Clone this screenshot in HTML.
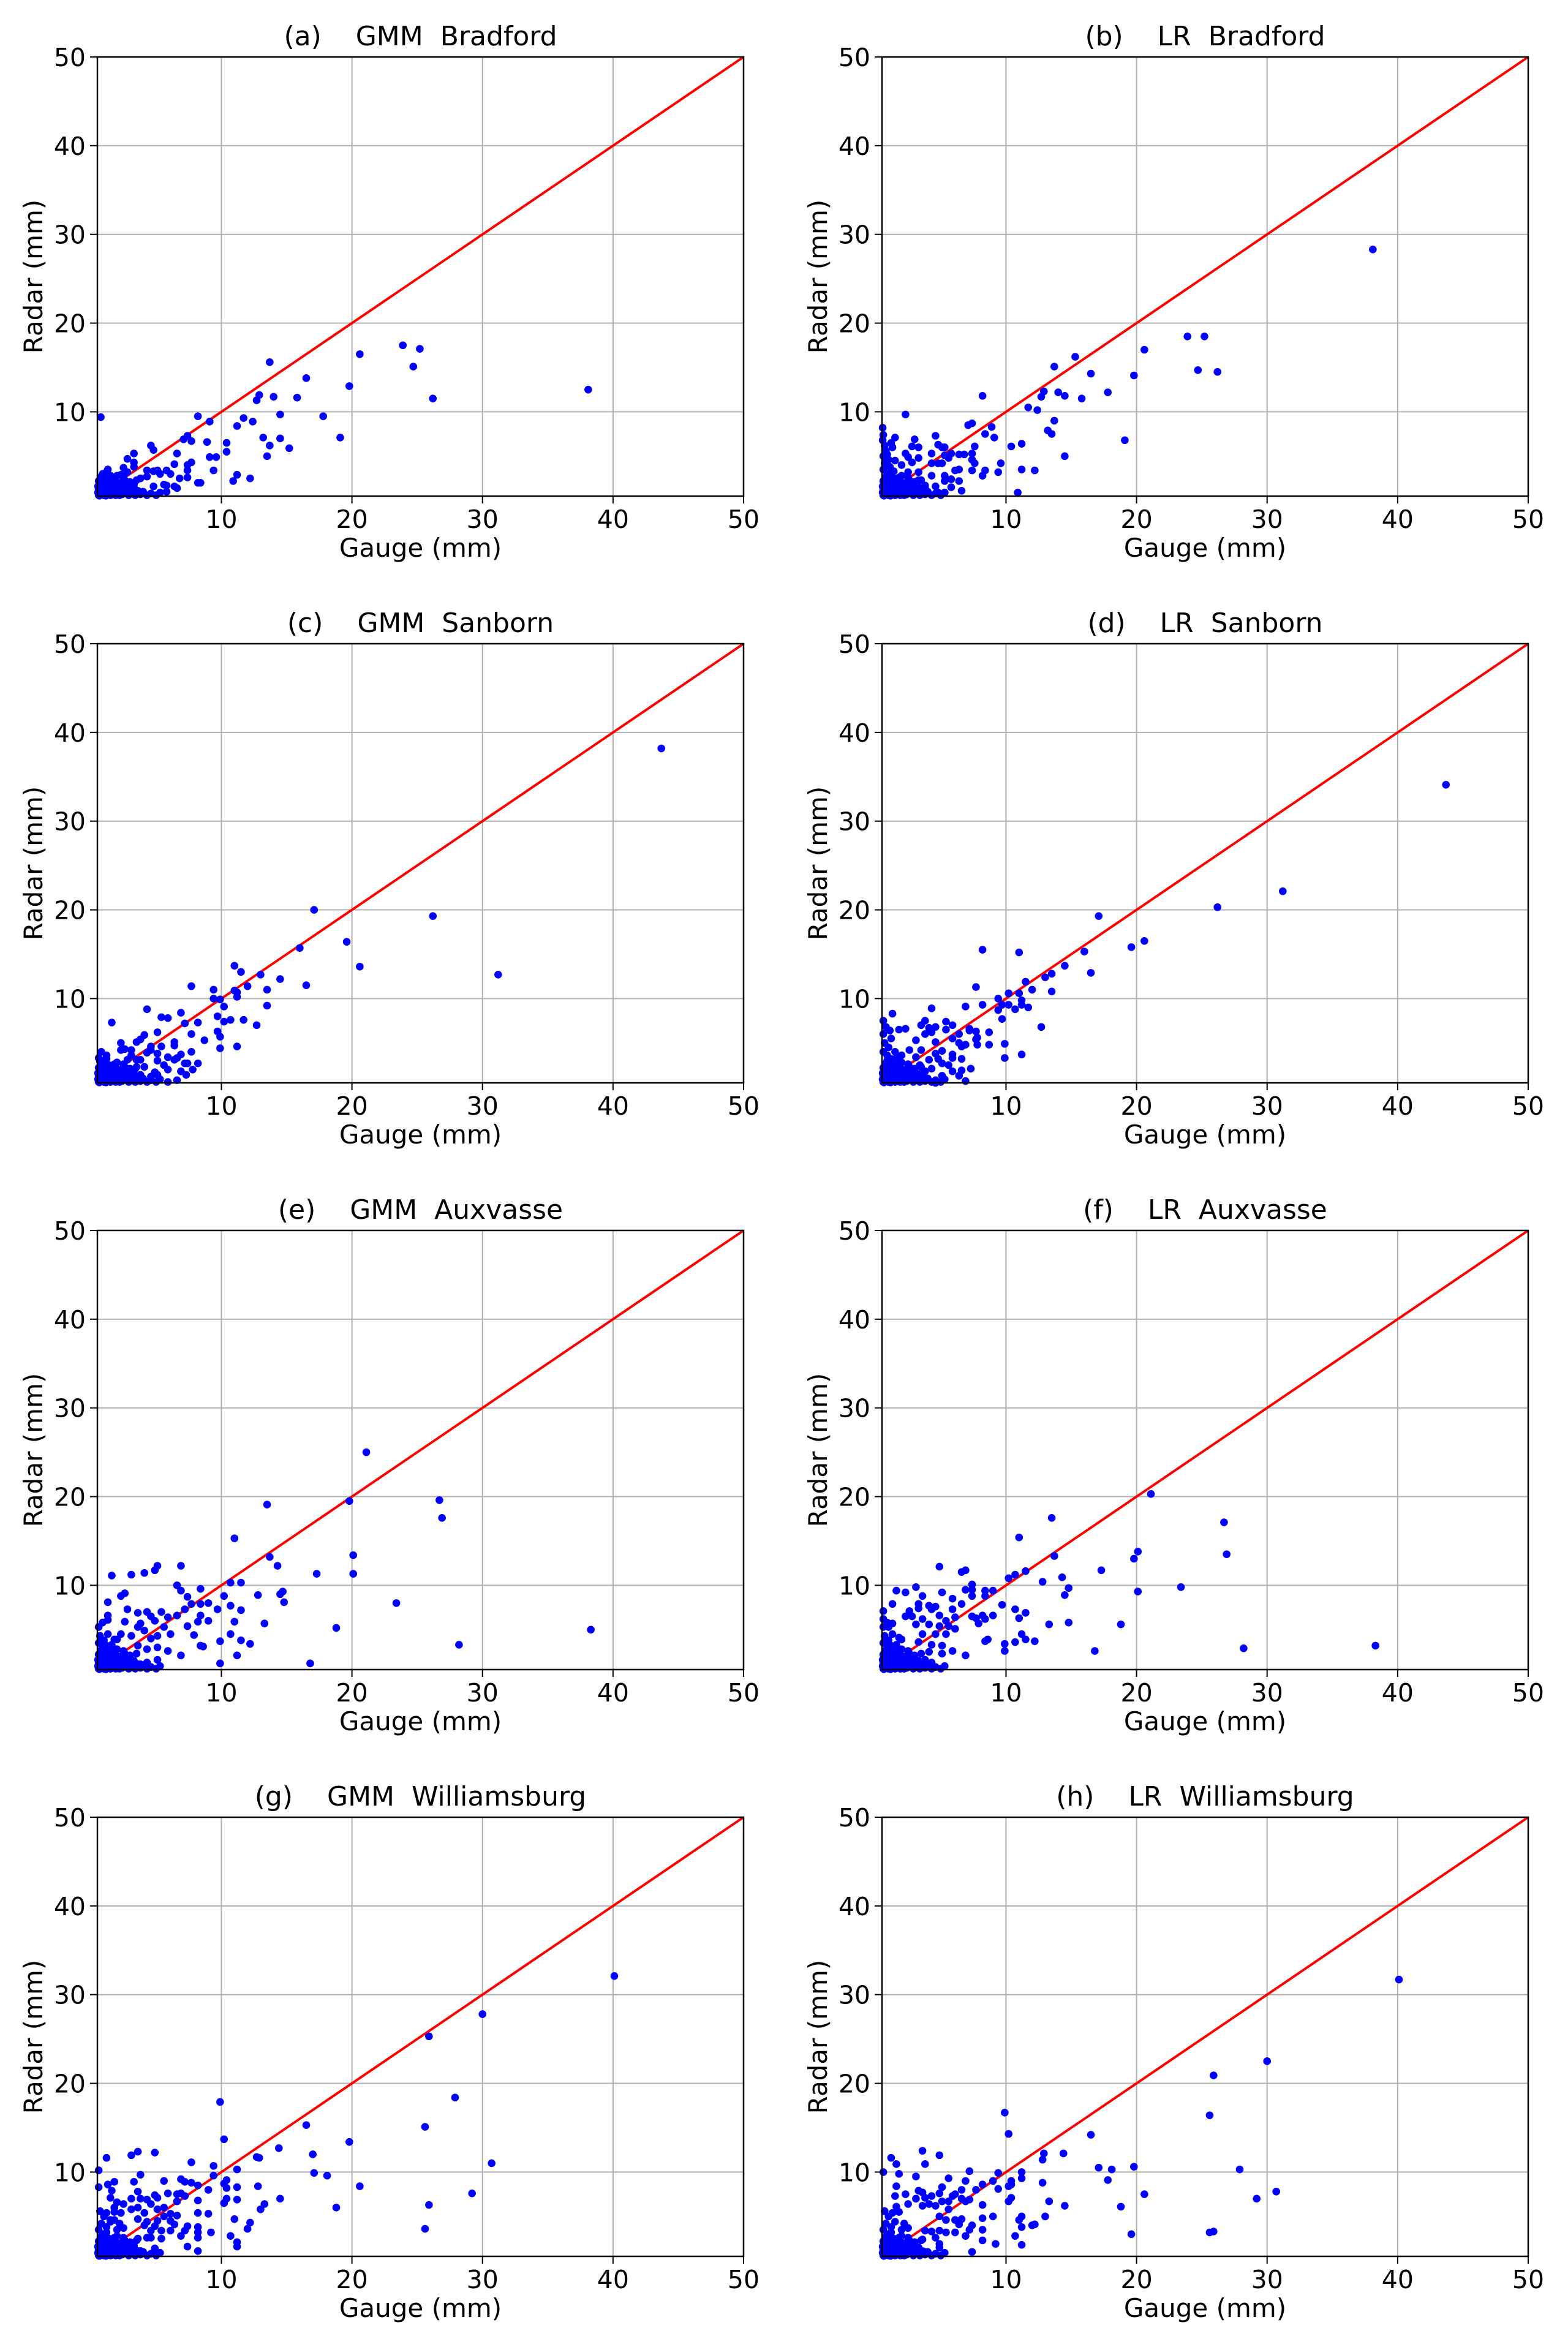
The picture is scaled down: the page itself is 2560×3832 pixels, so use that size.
<!DOCTYPE html>
<html><head><meta charset="utf-8"><style>
html,body{margin:0;padding:0;background:#fff;}
svg{display:block;}
text{font-family:"DejaVu Sans","Liberation Sans",sans-serif;fill:#000;}
</style></head><body>
<svg id="fig" xmlns="http://www.w3.org/2000/svg" width="2560" height="3832" viewBox="0 0 2560 3832"></svg>
<script>
const xTicks=[10,20,30,40,50];
const yTicks=[10,20,30,40,50];
const titles=["(a)    GMM  Bradford","(b)    LR  Bradford","(c)    GMM  Sanborn","(d)    LR  Sanborn","(e)    GMM  Auxvasse","(f)    LR  Auxvasse","(g)    GMM  Williamsburg","(h)    LR  Williamsburg"];
const baseCluster=[[0.6,0.6],[0.7,1.0],[0.8,1.5],[0.9,0.7],[1.0,2.0],[1.1,1.2],[1.2,0.8],[1.3,1.7],[1.4,2.5],[1.5,0.6],[1.6,1.3],[1.7,2.2],[1.8,0.9],[1.9,1.6],[2.0,2.8],[2.1,1.1],[2.2,0.6],[2.3,1.9],[2.4,1.4],[2.5,0.8],[2.6,2.3],[2.7,1.0],[2.8,1.7],[2.9,0.6],[3.0,1.3],[3.2,0.9],[3.4,0.6],[3.6,1.1],[3.8,0.7],[4.0,1.0],[0.6,2.2],[0.7,1.8],[0.6,1.3],[0.8,2.7],[0.9,3.0],[1.0,0.6],[1.1,2.4],[1.2,3.2],[1.3,0.9],[1.4,1.1],[1.5,1.9],[1.6,0.7],[1.7,1.0],[1.8,2.6],[1.9,0.6],[2.0,1.4],[2.1,2.0],[2.2,1.2],[2.4,0.7],[2.6,1.5],[2.8,0.9],[3.0,2.1],[3.3,1.5],[0.55,0.9],[0.55,1.6],[0.65,0.55],[0.75,2.4],[0.85,1.2],[0.95,1.9],[1.05,1.4],[1.15,0.55],[1.25,2.1],[4.3,0.6],[4.6,0.8],[5.0,0.6],[5.3,0.9],[3.5,2.3],[2.5,2.6]];
const ptsA=[[0.76,9.4],[8.2,9.5],[9.1,8.9],[11.7,9.3],[12.4,8.9],[11.2,8.4],[14.5,9.7],[17.8,9.5],[13.7,15.6],[16.5,13.8],[20.6,16.5],[23.9,17.5],[25.2,17.1],[24.7,15.1],[19.8,12.9],[26.2,11.5],[38.1,12.5],[12.9,11.9],[12.7,11.3],[14.0,11.7],[15.8,11.6],[19.1,7.1],[13.2,7.1],[14.5,7.0],[13.7,6.2],[15.2,5.9],[13.5,5.0],[10.4,6.5],[10.4,5.5],[8.9,6.6],[9.1,4.9],[9.6,4.9],[9.4,3.4],[11.2,2.9],[10.9,2.2],[12.2,2.5],[7.1,6.9],[7.4,7.3],[7.7,6.7],[6.6,5.3],[6.4,4.1],[7.4,4.0],[7.7,4.3],[7.4,3.4],[7.4,2.6],[6.8,2.5],[8.2,2.0],[8.4,2.0],[4.6,6.2],[4.8,5.7],[3.3,5.3],[2.8,4.7],[3.3,4.3],[3.3,3.8],[2.5,3.7],[1.3,3.5],[2.8,3.2],[4.3,3.4],[4.8,3.3],[5.1,3.4],[5.8,3.4],[6.1,3.0],[5.3,3.0],[3.8,2.5],[4.3,2.7],[1.5,2.8],[2.3,2.9],[2.5,2.4],[4.8,1.6],[5.6,1.8],[5.8,1.7],[6.4,1.6],[6.6,1.4],[5.8,1.0],[5.3,0.9],[3.3,1.8]];
const ptsB=[[38.1,28.3],[23.9,18.5],[25.2,18.5],[20.6,17.0],[15.3,16.2],[13.7,15.1],[16.5,14.3],[19.8,14.1],[24.7,14.7],[26.2,14.5],[12.9,12.3],[14.0,12.2],[12.7,11.7],[14.5,11.8],[15.8,11.5],[17.8,12.2],[8.2,11.8],[11.7,10.5],[12.4,10.2],[2.3,9.7],[13.7,9.0],[13.2,7.9],[13.5,7.5],[19.1,6.8],[14.5,5.0],[8.9,8.3],[7.1,8.5],[7.4,8.7],[8.4,7.5],[9.1,7.1],[7.6,6.1],[10.4,6.1],[11.2,6.4],[9.6,4.2],[11.2,3.5],[12.2,3.4],[10.9,0.9],[9.4,3.2],[8.4,3.4],[8.2,2.8],[7.4,3.4],[6.4,3.5],[6.1,3.4],[5.8,2.4],[6.4,2.2],[5.3,2.8],[5.3,2.2],[4.3,2.8],[4.6,1.6],[3.8,1.7],[5.8,1.5],[6.6,1.1],[4.8,0.9],[5.3,0.9],[4.6,7.3],[4.8,6.3],[5.1,6.0],[5.3,6.0],[5.8,5.3],[6.4,5.2],[6.8,5.2],[7.4,5.3],[7.4,4.6],[7.6,4.2],[5.6,4.8],[5.3,5.1],[4.3,5.3],[4.3,4.2],[4.8,4.2],[5.1,4.2],[3.3,6.0],[2.8,6.1],[3.0,6.9],[1.5,7.1],[0.55,8.2],[0.55,6.8],[1.3,6.0],[2.3,5.3],[2.5,4.9],[3.3,4.8],[2.8,4.3],[1.5,4.5],[2.0,4.0],[3.3,3.2],[2.5,3.2],[3.3,2.3],[3.8,1.4],[0.6,3.5],[0.7,4.2],[0.6,5.0],[0.8,5.6],[0.7,6.2],[1.0,4.6],[1.1,3.8],[0.9,5.2],[1.2,6.5],[1.4,3.3],[0.6,7.4]];
const ptsC=[[43.7,38.2],[17.1,20.0],[26.2,19.3],[19.6,16.4],[16.0,15.7],[20.6,13.6],[31.2,12.7],[11.0,13.7],[11.5,13.0],[13.0,12.7],[14.5,12.2],[16.5,11.5],[12.0,11.4],[7.7,11.4],[9.4,11.0],[11.0,10.9],[11.2,10.7],[13.5,11.0],[11.2,10.2],[9.4,10.0],[9.9,9.9],[10.2,9.1],[13.5,9.2],[4.3,8.8],[6.9,8.4],[5.4,7.9],[5.9,7.8],[9.7,8.0],[7.2,7.2],[8.2,7.3],[10.2,7.4],[10.7,7.6],[11.7,7.6],[12.7,7.0],[1.6,7.3],[7.7,6.0],[5.1,6.2],[4.1,5.9],[3.8,5.4],[3.5,5.1],[6.4,5.1],[6.4,4.7],[8.7,5.3],[9.7,6.3],[9.9,5.7],[9.9,4.4],[11.2,4.6],[5.4,4.6],[4.6,4.6],[2.3,5.0],[2.3,4.2],[2.6,4.3],[3.1,4.2],[4.6,4.2],[7.7,4.0],[6.9,3.7],[5.1,3.8],[4.3,3.9],[5.9,3.4],[6.6,3.3],[7.2,2.7],[7.4,2.7],[8.2,2.7],[6.4,3.1],[5.6,2.5],[5.9,2.0],[6.9,1.8],[7.8,2.0],[7.3,1.4],[4.9,1.7],[5.1,1.4],[4.6,1.2],[5.9,0.6],[6.6,0.8],[3.5,3.1],[3.8,3.1],[2.8,3.1],[5.1,3.0],[3.1,3.6],[3.4,2.1],[4.1,2.3],[3.8,1.4],[0.6,3.3],[0.8,4.0],[1.2,3.6],[0.7,2.9]];
const ptsD=[[43.7,34.1],[31.2,22.1],[26.2,20.3],[17.1,19.3],[20.6,16.5],[19.6,15.8],[16.0,15.3],[8.2,15.5],[11.0,15.2],[14.5,13.7],[16.5,12.9],[13.5,12.8],[13.0,12.4],[11.5,11.9],[12.0,11.0],[13.5,10.8],[7.7,11.3],[10.2,10.6],[11.0,10.6],[9.4,10.0],[11.2,9.8],[9.7,9.3],[10.2,9.3],[11.2,9.3],[11.7,9.0],[10.7,8.8],[9.4,8.7],[8.2,9.3],[6.9,9.1],[4.3,8.9],[1.3,8.3],[9.7,7.7],[12.7,6.8],[5.4,7.4],[5.9,7.0],[3.8,7.5],[3.5,7.0],[4.6,6.8],[4.1,6.7],[5.4,6.5],[7.2,6.6],[7.2,6.4],[7.7,6.3],[8.7,6.2],[2.3,6.6],[1.8,6.5],[4.3,6.2],[3.8,6.0],[6.4,6.0],[5.9,5.5],[7.8,5.6],[7.7,5.4],[3.1,5.3],[4.6,5.1],[6.4,5.0],[6.9,4.8],[7.8,4.8],[8.7,4.8],[9.9,4.9],[6.6,4.6],[5.1,4.1],[3.5,4.2],[2.6,4.2],[4.6,3.8],[5.9,3.7],[5.9,3.3],[6.6,3.2],[11.2,3.7],[9.9,3.3],[4.8,3.2],[4.1,3.1],[5.6,2.5],[5.1,2.7],[7.3,2.1],[6.6,1.9],[5.9,1.8],[4.3,2.1],[3.8,1.8],[6.4,1.3],[5.1,1.3],[4.6,0.5],[6.9,0.7],[3.4,2.5],[3.1,3.4],[0.6,4.0],[0.7,5.0],[0.6,6.0],[0.8,6.8],[1.0,4.5],[1.2,5.5],[0.9,3.6],[1.5,4.0],[1.1,6.4],[1.6,3.3],[2.0,3.6],[0.6,7.5]];
const ptsE=[[21.1,25.0],[13.5,19.1],[19.8,19.5],[26.7,19.6],[26.9,17.6],[11.0,15.3],[13.7,13.2],[20.1,13.4],[14.3,12.2],[17.3,11.3],[20.1,11.3],[6.9,12.2],[5.1,12.2],[4.9,11.7],[4.1,11.4],[3.1,11.2],[1.6,11.1],[6.6,10.0],[6.9,9.4],[8.4,9.6],[10.7,10.3],[11.5,10.3],[10.2,8.8],[12.8,8.9],[14.5,9.0],[14.7,9.3],[14.8,8.1],[23.4,8.0],[7.4,8.7],[2.6,9.1],[2.3,8.8],[1.3,8.1],[7.7,7.9],[7.2,7.3],[8.4,7.9],[9.0,8.0],[9.7,7.3],[10.7,7.7],[11.5,7.2],[2.8,7.3],[3.6,6.9],[4.3,7.0],[5.4,7.0],[6.6,6.6],[8.4,6.6],[5.9,6.4],[4.6,6.5],[1.3,6.6],[1.3,6.1],[2.6,5.9],[3.8,5.7],[4.9,6.0],[8.2,5.9],[9.0,6.0],[11.0,5.9],[13.3,5.7],[7.4,5.4],[5.6,5.3],[3.6,5.3],[18.8,5.2],[38.3,5.0],[7.9,4.4],[10.7,4.5],[6.1,4.5],[5.1,4.3],[2.3,4.5],[4.6,4.0],[9.9,3.7],[11.5,3.8],[12.2,3.4],[8.4,3.2],[8.6,3.1],[28.2,3.3],[5.1,3.0],[5.9,2.6],[4.3,2.8],[3.6,3.2],[6.9,2.1],[11.2,2.1],[5.1,1.6],[4.3,1.3],[3.8,1.1],[9.9,1.2],[16.8,1.2],[1.8,3.9],[3.1,4.3],[4.1,4.9],[0.6,3.5],[0.7,4.3],[0.6,5.3],[1.0,3.8],[1.3,4.5],[1.6,3.3],[2.0,3.9],[0.9,5.8]];
const ptsF=[[21.1,20.3],[13.5,17.6],[26.7,17.1],[11.0,15.4],[20.1,13.8],[19.8,13.0],[26.9,13.5],[13.7,13.3],[17.3,11.7],[4.9,12.1],[6.9,11.7],[6.6,11.5],[11.5,11.6],[10.7,11.2],[10.2,10.8],[14.3,10.9],[12.8,10.4],[23.4,9.8],[20.1,9.3],[14.8,9.7],[14.5,8.9],[7.4,10.1],[6.9,9.5],[7.4,9.5],[8.4,9.4],[9.0,9.4],[7.4,8.8],[8.4,8.8],[3.1,9.8],[1.6,9.4],[2.3,9.2],[3.6,8.8],[5.1,9.2],[5.9,8.5],[6.6,7.9],[9.7,7.8],[1.3,7.9],[3.3,7.9],[4.1,7.7],[4.6,7.6],[3.3,7.4],[4.3,7.3],[5.9,7.3],[10.7,7.3],[11.5,6.9],[0.6,7.1],[2.6,7.1],[4.9,6.6],[7.4,6.5],[7.7,6.3],[8.2,6.6],[8.4,6.2],[9.0,6.6],[11.0,6.3],[6.1,6.4],[2.3,6.5],[2.8,6.5],[3.6,6.2],[5.4,6.0],[7.9,5.7],[13.3,5.6],[14.8,5.8],[18.8,5.6],[1.3,5.7],[3.1,5.6],[4.1,5.6],[4.9,5.4],[5.6,5.4],[6.1,5.1],[1.0,5.3],[11.2,4.5],[3.6,4.5],[4.6,4.5],[5.4,4.5],[8.4,3.7],[8.6,3.9],[10.7,3.6],[11.5,3.9],[12.2,3.7],[9.9,3.4],[5.1,3.2],[4.3,3.3],[3.3,3.6],[1.8,4.1],[38.3,3.2],[28.2,2.9],[9.9,2.6],[16.8,2.6],[5.9,2.6],[5.1,2.3],[4.1,2.5],[6.9,2.1],[3.8,1.6],[4.3,1.3],[3.6,0.8],[0.6,3.5],[0.7,4.3],[0.6,5.3],[1.0,3.8],[1.3,4.5],[1.6,3.3],[2.0,3.9],[0.9,5.8],[0.6,6.2]];
const ptsG=[[40.1,32.1],[30.0,27.8],[25.9,25.3],[9.9,17.9],[27.9,18.4],[16.5,15.3],[25.6,15.1],[10.2,13.7],[19.8,13.4],[14.4,12.7],[17.0,12.0],[12.7,11.7],[12.9,11.6],[30.7,11.0],[1.2,11.6],[3.1,11.9],[3.6,12.3],[4.9,12.2],[7.7,11.1],[9.4,10.7],[11.2,10.3],[0.6,10.2],[3.8,9.7],[17.1,9.9],[18.1,9.6],[9.4,9.6],[10.4,9.1],[10.2,8.7],[10.4,8.2],[11.2,8.3],[12.8,8.4],[20.6,8.4],[6.9,9.2],[7.2,8.9],[7.7,8.8],[8.2,8.5],[9.0,8.0],[5.6,9.0],[3.3,8.9],[1.8,8.9],[1.3,8.6],[1.6,7.9],[0.6,8.3],[3.6,7.8],[5.9,7.6],[6.6,7.5],[6.9,7.6],[7.2,7.3],[4.9,7.4],[5.1,7.1],[29.2,7.6],[1.5,7.1],[3.1,7.0],[3.8,7.0],[4.3,6.9],[6.6,6.7],[8.2,6.8],[10.2,6.5],[10.4,7.0],[11.2,6.9],[14.5,7.0],[13.3,6.4],[13.0,5.8],[25.9,6.3],[18.8,6.0],[2.0,6.6],[2.5,6.4],[4.6,6.4],[1.8,6.0],[3.6,6.0],[5.6,6.0],[2.3,5.4],[3.1,5.8],[4.1,5.4],[5.1,5.8],[6.1,5.3],[6.6,5.1],[8.2,5.4],[9.0,5.3],[5.6,5.0],[1.2,5.4],[1.5,4.6],[1.8,4.6],[3.6,4.7],[4.3,4.4],[5.1,4.5],[6.1,4.5],[6.4,4.1],[11.0,4.7],[12.2,4.3],[4.1,4.0],[4.9,3.9],[7.4,3.9],[8.2,3.8],[12.0,3.6],[25.6,3.6],[4.6,3.4],[5.4,3.4],[6.1,3.4],[7.2,3.4],[8.2,3.2],[9.2,3.2],[3.6,2.5],[4.3,2.6],[4.6,2.6],[5.4,2.5],[6.9,2.8],[8.2,2.6],[10.7,2.8],[11.2,2.1],[11.2,1.6],[7.4,1.6],[4.9,1.4],[3.8,1.1],[8.2,1.1],[3.3,1.7],[2.8,1.3],[2.3,0.8],[0.6,3.5],[0.8,4.2],[1.0,5.0],[1.2,3.8],[1.5,4.4],[2.0,3.5],[2.2,4.2],[0.7,5.6],[1.8,5.5],[2.5,3.7]];
const ptsH=[[40.1,31.7],[30.0,22.5],[25.9,20.9],[9.9,16.7],[25.6,16.4],[10.2,14.3],[16.5,14.2],[14.4,12.1],[12.9,12.1],[12.8,11.4],[1.2,11.6],[1.6,10.9],[3.6,12.4],[4.9,11.9],[3.8,10.9],[7.2,10.1],[9.4,9.9],[11.2,10.0],[11.2,9.3],[17.1,10.5],[18.1,10.3],[19.8,10.6],[27.9,10.3],[17.8,9.1],[0.6,10.0],[1.8,9.8],[3.1,9.5],[5.6,9.3],[6.9,9.0],[9.0,9.0],[10.4,9.0],[8.2,8.6],[10.2,8.4],[10.4,8.6],[12.8,8.8],[1.6,8.4],[5.1,8.3],[6.6,8.0],[7.7,8.0],[9.4,8.1],[20.6,7.5],[30.7,7.8],[29.2,7.0],[3.3,7.9],[3.6,7.7],[4.9,7.6],[2.3,7.5],[1.5,7.3],[4.3,7.3],[5.9,7.3],[6.1,7.5],[3.1,7.0],[3.8,7.1],[6.6,7.0],[7.2,6.9],[6.9,6.7],[10.2,6.7],[10.4,7.1],[13.3,6.7],[14.5,6.2],[18.8,6.1],[5.1,6.7],[5.6,6.7],[4.1,6.4],[4.6,6.2],[2.5,6.4],[1.6,6.1],[8.2,6.3],[3.6,6.2],[5.6,5.8],[1.3,5.4],[4.9,5.0],[5.4,4.6],[6.1,4.6],[6.6,4.7],[6.4,4.1],[8.2,4.8],[9.0,5.0],[11.2,5.0],[13.0,5.0],[11.0,4.6],[12.2,4.1],[12.0,4.0],[11.2,3.8],[7.4,4.0],[7.2,3.5],[8.2,3.5],[4.9,3.4],[5.4,3.2],[6.1,3.2],[4.3,3.3],[3.8,3.4],[6.9,2.8],[10.7,2.8],[19.6,3.0],[25.6,3.2],[25.9,3.3],[8.2,2.3],[9.2,1.9],[11.2,1.8],[3.6,2.4],[4.6,2.6],[4.9,1.9],[4.9,1.5],[2.8,1.8],[3.1,1.3],[3.8,1.0],[7.4,1.0],[2.0,1.1],[0.6,3.5],[0.8,4.2],[1.0,5.0],[1.2,3.8],[1.5,4.4],[2.0,3.5],[2.2,4.2],[0.7,5.6],[1.8,5.5],[2.5,3.7]];
const panelPts=[ptsA,ptsB,ptsC,ptsD,ptsE,ptsF,ptsG,ptsH];
const panelNames=["gmm-bradford","lr-bradford","gmm-sanborn","lr-sanborn","gmm-auxvasse","lr-auxvasse","gmm-williamsburg","lr-williamsburg"];

const NS="http://www.w3.org/2000/svg";
const svg=document.getElementById('fig');
const X0=0.5,X1=50,Y0=0.5,Y1=50,W=1055,H=717;
const colLeft=[159,1440], rowTop=[93,1051,2009,2967];
function mk(tag,attrs,parent){const e=document.createElementNS(NS,tag);for(const k in attrs)e.setAttribute(k,attrs[k]);parent.appendChild(e);return e;}
for(let p=0;p<8;p++){
  const L=colLeft[p%2], T=rowTop[Math.floor(p/2)];
  const sx=v=>L+(v-X0)/(X1-X0)*W;
  const sy=v=>T+H-(v-Y0)/(Y1-Y0)*H;
  const g=mk('g',{},svg);
  
  
  const grid=mk('g',{stroke:'#b0b0b0','stroke-width':2},g);
  
  
  xTicks.forEach(t=>{mk('line',{x1:sx(t),x2:sx(t),y1:T,y2:T+H},grid);});
  yTicks.forEach(t=>{mk('line',{x1:L,x2:L+W,y1:sy(t),y2:sy(t)},grid);});
  const ln=mk('line',{x1:sx(X0),y1:sy(Y0),x2:sx(X1),y2:sy(Y1),stroke:'#ff0000','stroke-width':4},g);
  
  
  const pg=mk('g',{fill:'#0000ff'},g);
  
  
  baseCluster.concat(panelPts[p]).forEach(d=>{
    const c=mk('circle',{cx:sx(d[0]),cy:sy(d[1]),r:6.3},pg);
    
    
  });
  const sp=mk('rect',{x:L,y:T,width:W,height:H,fill:'none',stroke:'#000','stroke-width':2.5},g);
  
  
  xTicks.forEach(t=>{
    mk('line',{x1:sx(t),x2:sx(t),y1:T+H,y2:T+H+12,stroke:'#000','stroke-width':2},g);
    const tx=mk('text',{x:sx(t),y:T+H+52,'font-size':41,'text-anchor':'middle'},g);
    tx.textContent=t;
    
    
  });
  yTicks.forEach(t=>{
    mk('line',{x1:L-12,x2:L,y1:sy(t),y2:sy(t),stroke:'#000','stroke-width':2},g);
    const ty=mk('text',{x:L-19,y:sy(t)+15,'font-size':41,'text-anchor':'end'},g);
    ty.textContent=t;
    
    
  });
  const xl=mk('text',{x:L+W/2,y:T+H+99,'font-size':42,'text-anchor':'middle'},g);
  xl.textContent='Gauge (mm)';
  
  
  const yc=T+H/2, xc=L-90;
  const yl=mk('text',{x:xc,y:yc,'font-size':42,'text-anchor':'middle',transform:`rotate(-90 ${xc} ${yc})`},g);
  yl.textContent='Radar (mm)';
  
  
  const tt=mk('text',{x:L+W/2,y:T-19,'font-size':44,'text-anchor':'middle',style:'white-space:pre'},g);
  tt.textContent=titles[p];
  
  
}
</script>
</body></html>
